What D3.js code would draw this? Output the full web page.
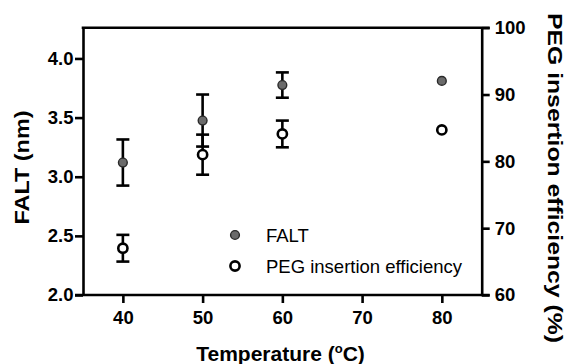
<!DOCTYPE html>
<html>
<head>
<meta charset="utf-8">
<script src="https://cdn.jsdelivr.net/npm/d3@7"></script>
<style>
  html, body { margin: 0; padding: 0; background: #fff; }
  svg { display: block; }
  text { font-family: "Liberation Sans", Arial, Helvetica, sans-serif; fill: #000; }
</style>
</head>
<body>
<svg id="chart" width="566" height="364"></svg>
<script>
// ---- data ----
const temperatures = [40, 50, 60, 80];
const faltMean = [3.12, 3.475, 3.775, 3.81];
const faltErr = [0.195, 0.22, 0.107, 0];
const pegMean = [67.0, 81.0, 84.1, 84.7];
const pegErr = [2.0, 3.0, 2.0, 0];
const xTicks = [40, 50, 60, 70, 80];
const leftTicks = [2.0, 2.5, 3.0, 3.5, 4.0];
const rightTicks = [60, 70, 80, 90, 100];
const seriesNames = ["FALT", "PEG insertion efficiency"];

// ---- layout ----
const svg = d3.select("#chart");
const L = 83, R = 481.7, T = 27.7, B = 295;
const axisW = 2.6;
const tickFont = 18.5;

const x = d3.scaleLinear().domain([35, 85]).range([L, R]);
const yL = d3.scaleLinear().domain([2.0, 4.26]).range([B, T]);
const yR = d3.scaleLinear().domain([60, 100]).range([B, T]);

function styleAxis(g, fontSize) {
  g.selectAll("path.domain").attr("stroke", "#000").attr("stroke-width", axisW);
  g.selectAll(".tick line").attr("stroke", "#000").attr("stroke-width", axisW);
  g.selectAll(".tick text")
    .attr("font-family", '"Liberation Sans", Arial, sans-serif')
    .attr("font-weight", "bold")
    .attr("font-size", fontSize)
    .attr("fill", "#000");
}

// top frame line
svg.append("line")
  .attr("x1", L - axisW / 2).attr("x2", R + 8)
  .attr("y1", T).attr("y2", T)
  .attr("stroke", "#000").attr("stroke-width", axisW);

// left axis
const gL = svg.append("g").attr("transform", `translate(${L},0)`)
  .call(d3.axisLeft(yL).tickValues(leftTicks).tickFormat(d3.format(".1f"))
        .tickSize(8).tickSizeOuter(0).tickPadding(1.5));
styleAxis(gL, tickFont);

// right axis
const gR = svg.append("g").attr("transform", `translate(${R},0)`)
  .call(d3.axisRight(yR).tickValues(rightTicks).tickFormat(d3.format("d"))
        .tickSize(8).tickSizeOuter(0).tickPadding(5));
styleAxis(gR, tickFont);

// bottom axis
const gB = svg.append("g").attr("transform", `translate(0,${B})`)
  .call(d3.axisBottom(x).tickValues(xTicks).tickFormat(d3.format("d"))
        .tickSize(8).tickSizeOuter(0).tickPadding(7.5));
styleAxis(gB, tickFont);
gB.select("path.domain").attr("d", `M${L - 8},0H${R + 8}`);

// axis titles
svg.append("text")
  .attr("transform", `translate(29,167.5) rotate(-90)`)
  .attr("text-anchor", "middle")
  .attr("font-weight", "bold").attr("font-size", 20)
  .attr("textLength", 114).attr("lengthAdjust", "spacingAndGlyphs")
  .text("FALT (nm)");

svg.append("text")
  .attr("transform", `translate(548,178) rotate(90)`)
  .attr("text-anchor", "middle")
  .attr("font-weight", "bold").attr("font-size", 21)
  .attr("textLength", 330).attr("lengthAdjust", "spacingAndGlyphs")
  .text("PEG insertion efficiency (%)");

const xt = svg.append("text")
  .attr("x", 280.5).attr("y", 361)
  .attr("text-anchor", "middle")
  .attr("font-weight", "bold").attr("font-size", 21);
xt.append("tspan").text("Temperature (");
xt.append("tspan").attr("font-size", 13).attr("dy", -8).text("o");
xt.append("tspan").attr("dy", 8).text("C)");

// ---- error bars ----
const capW = 6.5;
function errorBars(means, errs, scale) {
  const g = svg.append("g");
  temperatures.forEach((t, i) => {
    if (!errs[i]) return;
    const cx = x(t);
    const y1 = scale(means[i] + errs[i]), y2 = scale(means[i] - errs[i]);
    g.append("line").attr("x1", cx).attr("x2", cx).attr("y1", y1).attr("y2", y2)
      .attr("stroke", "#000").attr("stroke-width", 2.6);
    [y1, y2].forEach(yy => g.append("line")
      .attr("x1", cx - capW).attr("x2", cx + capW).attr("y1", yy).attr("y2", yy)
      .attr("stroke", "#000").attr("stroke-width", 2.6));
  });
}
errorBars(faltMean, faltErr, yL);
errorBars(pegMean, pegErr, yR);

// ---- markers ----
svg.append("g").selectAll("circle").data(temperatures).join("circle")
  .attr("cx", d => x(d)).attr("cy", (d, i) => yL(faltMean[i]))
  .attr("r", 4.4).attr("fill", "#6b6b6b").attr("stroke", "#2a2a2a").attr("stroke-width", 1.4);

svg.append("g").selectAll("circle").data(temperatures).join("circle")
  .attr("cx", d => x(d)).attr("cy", (d, i) => yR(pegMean[i]))
  .attr("r", 4.6).attr("fill", "#fff").attr("stroke", "#000").attr("stroke-width", 2.6);

// ---- legend ----
const leg = svg.append("g");
leg.append("circle").attr("cx", 235).attr("cy", 235).attr("r", 4.4)
  .attr("fill", "#6b6b6b").attr("stroke", "#2a2a2a").attr("stroke-width", 1.4);
leg.append("circle").attr("cx", 235).attr("cy", 266).attr("r", 4.6)
  .attr("fill", "#fff").attr("stroke", "#000").attr("stroke-width", 2.6);
leg.append("text").attr("x", 266).attr("y", 241.5).attr("font-size", 18.5).text(seriesNames[0]);
leg.append("text").attr("x", 266).attr("y", 272.5).attr("font-size", 18.5).text(seriesNames[1]);
</script>
</body>
</html>
